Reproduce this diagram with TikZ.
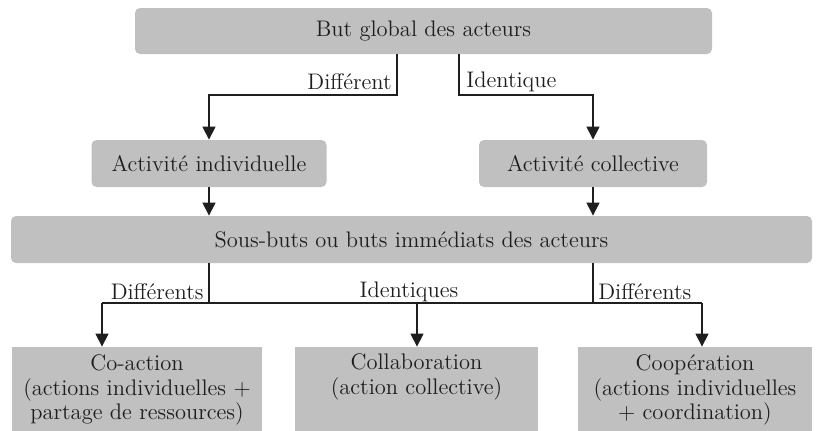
\documentclass[tikz,border=0pt]{standalone}
\usetikzlibrary{arrows.meta,calc}
\definecolor{boxgray}{HTML}{C0C0C0}
\definecolor{inkc}{HTML}{1E1E1E}
\begin{document}
\begin{tikzpicture}[x=0.5pt,y=-0.5pt,
  every node/.style={text=inkc,font=\fontsize{11.25}{12.3}\selectfont},
  rbox/.style={fill=boxgray,rounded corners=2.5pt,inner sep=0pt,align=center},
  sbox/.style={fill=boxgray,inner sep=0pt,align=center},
  conn/.style={draw=inkc,line width=0.6pt},
  arr/.style={conn,-{Triangle[length=6.5pt,width=6.5pt]}},
  lbl/.style={inner sep=1pt}]
\useasboundingbox (0,0) rectangle (820,430);
\node[rbox,minimum width=288.5pt,minimum height=23pt] (top) at (423.5,31) {But global des acteurs};
\node[rbox,minimum width=117.5pt,minimum height=23.5pt] (ind) at (209,163.5) {Activité individuelle};
\node[rbox,minimum width=114pt,minimum height=23.5pt] (col) at (593,163.5) {Activité collective};
\node[rbox,minimum width=400.5pt,minimum height=23.5pt] (sous) at (411.5,239.5) {Sous-buts ou buts immédiats des acteurs};
\node[sbox,minimum width=125pt,minimum height=43pt] (coact) at (137,390) {Co-action\\(actions individuelles +\\partage de ressources)};
\node[sbox,minimum width=121.5pt,minimum height=43pt] (collab) at (416.5,390) {Collaboration\\(action collective)\\\strut};
\node[sbox,minimum width=117pt,minimum height=43pt] (coop) at (695,390) {Coopération\\(actions individuelles\\+ coordination)};
% junctions
\coordinate (j1) at (397,95);
\coordinate (j2) at (459,95);
\coordinate (h1) at (209,303);
\coordinate (h2) at (593,303);
\coordinate (hl) at (102,303);
\coordinate (hm) at (417,303);
\coordinate (hr) at (702,303);
% top level
\draw[arr] (j1 |- top.south) -- (j1) -| (ind.north);
\draw[arr] (j2 |- top.south) -- (j2) -| (col.north);
\node[lbl,anchor=east] (l1) at (394,82) {Différent};
\node[lbl,anchor=west] (l2) at (464,82) {Identique};
\draw[arr] (ind.south) -- (ind.south |- sous.north);
\draw[arr] (col.south) -- (col.south |- sous.north);
% lower level
\draw[conn] (h1 |- sous.south) -- (h1);
\draw[conn] (h2 |- sous.south) -- (h2);
\draw[conn] (hl) -- (hr);
\draw[arr] (hl) -- (hl |- coact.north);
\draw[arr] (hm) -- (hm |- collab.north);
\draw[arr] (hr) -- (hr |- coop.north);
\node[lbl,anchor=east] (l3) at (206,292) {Différents};
\node[lbl] (l4) at (409,292) {Identiques};
\node[lbl,anchor=west] (l5) at (596,292) {Différents};
\end{tikzpicture}
\end{document}
